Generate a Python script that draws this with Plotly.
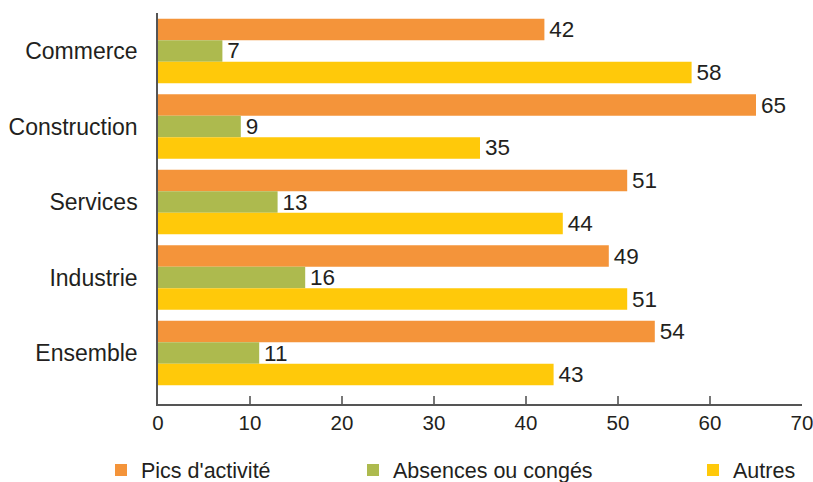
import plotly.graph_objects as go

categories = ["Commerce", "Construction", "Services", "Industrie", "Ensemble"]
pics = [42, 65, 51, 49, 54]
absences = [7, 9, 13, 16, 11]
autres = [58, 35, 44, 51, 43]
x_ticks = [0, 10, 20, 30, 40, 50, 60, 70]

W, H = 813, 482

series = [
    ("Pics d'activité", pics, "#F4943A", "legend", 101 / W),
    ("Absences ou congés", absences, "#ADBA4E", "legend2", 353 / W),
    ("Autres", autres, "#FFC90A", "legend3", 693 / W),
]

FONT = "Liberation Sans, Arial, sans-serif"
TXT = "#231F20"

fig = go.Figure()
for name, vals, color, leg, _ in series:
    fig.add_trace(go.Bar(
        y=categories, x=vals, name=name, orientation="h",
        marker=dict(color=color, line=dict(width=0)),
        text=["\u200a" + str(v) for v in vals], textposition="outside",
        constraintext="none",
        textfont=dict(family=FONT, size=22.5, color=TXT),
        cliponaxis=False, legend=leg, showlegend=True,
    ))

legends = {}
for name, vals, color, leg, lx in series:
    legends[leg] = dict(orientation="h", yanchor="middle", y=12 / H, yref="container",
                        xanchor="left", x=lx, xref="container",
                        font=dict(family=FONT, size=21.5, color=TXT),
                        bgcolor="rgba(0,0,0,0)", itemclick=False)

fig.update_layout(
    width=W, height=H, showlegend=True,
    margin=dict(l=158, r=11, t=13, b=78, autoexpand=False),
    barmode="group", bargap=0.146, bargroupgap=0,
    plot_bgcolor="white", paper_bgcolor="white",
    font=dict(family=FONT, size=21, color=TXT),
    xaxis=dict(range=[0, 70], tickvals=x_ticks, ticks="inside", ticklen=8,
               tickcolor="#777777", tickwidth=1.5, showline=True,
               linecolor="#555555", linewidth=1.5, showgrid=False, zeroline=False,
               automargin=False, ticklabeloverflow="allow",
               tickfont=dict(family=FONT, size=20.5, color=TXT)),
    yaxis=dict(type="category", categoryorder="array", categoryarray=categories,
               range=[4.675, -0.503], showline=True, linecolor="#555555",
               linewidth=1.5, ticks="", showgrid=False, zeroline=False,
               ticklabelstandoff=14, automargin=False,
               tickfont=dict(family=FONT, size=23, color=TXT)),
    **legends,
)

fig.write_html(
    "out.html",
    config={"displayModeBar": False},
    post_script="document.body.style.margin='0';document.body.style.overflow='hidden';",
)
